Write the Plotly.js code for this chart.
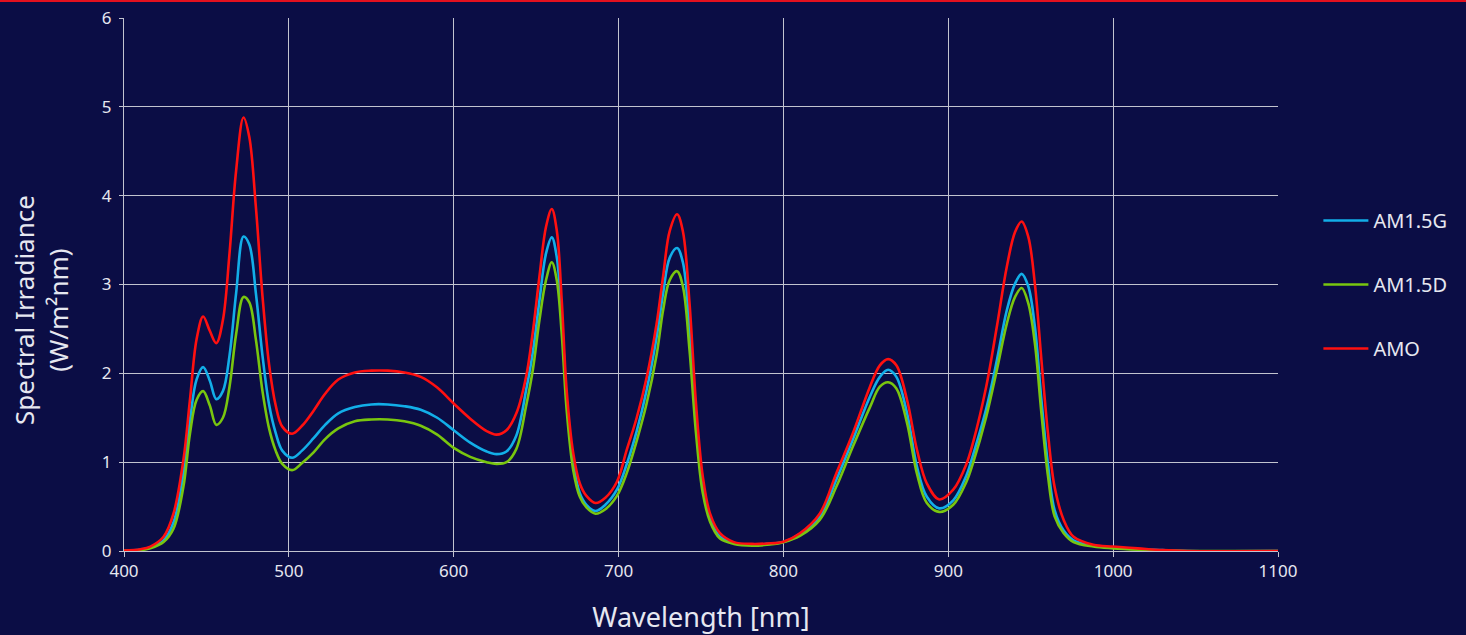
<!DOCTYPE html>
<html>
<head>
<meta charset="utf-8">
<script src="https://cdn.plot.ly/plotly-3.0.1.min.js"></script>
<style>
  html, body { margin: 0; padding: 0; background: #0b0d45; overflow: hidden; }
  #topline { position: absolute; left: 0; top: 0; width: 1466px; height: 2px; background: #e3101e; z-index: 10; }
  #chart { width: 1466px; height: 635px; }
</style>
</head>
<body>
<div id="topline"></div>
<div id="chart"></div>
<script>
const wavelength = [400, 410, 416, 424, 430, 436, 440, 444, 448, 452, 456, 460, 464, 468, 472.5, 476, 480, 484, 488, 492, 496, 502, 508, 515, 522, 530, 540, 550, 560, 570, 580, 590, 600, 610, 620, 626, 632, 638, 644, 648, 652, 656, 659.5, 662.5, 665.5, 668.5, 672.5, 676.5, 680.5, 686, 692, 699, 705, 711, 717, 723, 727, 731, 735.5, 739, 743, 747, 751, 755.5, 761.5, 770, 781, 790, 800, 810, 822, 832, 842, 852.5, 858.5, 863.5, 868.5, 875, 881, 887, 894.5, 903, 911, 915, 923, 929.5, 935.5, 940.5, 944.5, 948.5, 952.5, 956.5, 960.5, 964.5, 970, 976, 988, 1000, 1015, 1030, 1045, 1100];

const am15g = [0.003, 0.015, 0.04, 0.12, 0.32, 0.87, 1.47, 1.93, 2.07, 1.92, 1.71, 1.80, 2.20, 2.90, 3.54, 3.45, 2.90, 2.20, 1.65, 1.33, 1.13, 1.05, 1.13, 1.27, 1.42, 1.55, 1.62, 1.65, 1.65, 1.63, 1.59, 1.50, 1.36, 1.22, 1.12, 1.09, 1.12, 1.30, 1.82, 2.24, 2.82, 3.35, 3.53, 3.31, 2.64, 1.70, 0.99, 0.65, 0.52, 0.45, 0.52, 0.69, 0.98, 1.35, 1.81, 2.40, 2.90, 3.30, 3.41, 3.25, 2.52, 1.50, 0.76, 0.37, 0.16, 0.09, 0.07, 0.08, 0.10, 0.19, 0.39, 0.80, 1.25, 1.74, 1.96, 2.04, 1.96, 1.55, 0.95, 0.61, 0.48, 0.57, 0.85, 1.08, 1.60, 2.15, 2.71, 3.01, 3.12, 2.98, 2.53, 1.70, 0.97, 0.46, 0.23, 0.12, 0.06, 0.04, 0.02, 0.01, 0.0, 0.0];

const am15d = [0.002, 0.01, 0.03, 0.10, 0.25, 0.72, 1.32, 1.70, 1.80, 1.64, 1.42, 1.50, 1.85, 2.44, 2.86, 2.80, 2.38, 1.80, 1.38, 1.13, 0.98, 0.91, 0.99, 1.11, 1.26, 1.38, 1.46, 1.48, 1.48, 1.46, 1.41, 1.31, 1.16, 1.06, 1.00, 0.98, 1.00, 1.15, 1.64, 2.04, 2.60, 3.05, 3.25, 3.05, 2.45, 1.59, 0.91, 0.61, 0.49, 0.42, 0.47, 0.62, 0.88, 1.24, 1.66, 2.20, 2.71, 3.05, 3.15, 2.98, 2.27, 1.32, 0.66, 0.33, 0.14, 0.08, 0.06, 0.07, 0.10, 0.17, 0.35, 0.72, 1.17, 1.62, 1.85, 1.90, 1.83, 1.44, 0.87, 0.54, 0.44, 0.52, 0.78, 0.99, 1.51, 2.04, 2.56, 2.86, 2.96, 2.79, 2.34, 1.55, 0.84, 0.39, 0.20, 0.10, 0.05, 0.03, 0.015, 0.005, 0.0, 0.0];

const am0 = [0.005, 0.02, 0.05, 0.16, 0.42, 1.02, 1.70, 2.38, 2.64, 2.48, 2.34, 2.60, 3.35, 4.28, 4.88, 4.66, 3.87, 2.87, 2.10, 1.64, 1.40, 1.32, 1.41, 1.58, 1.77, 1.93, 2.01, 2.03, 2.03, 2.01, 1.96, 1.84, 1.66, 1.49, 1.35, 1.31, 1.36, 1.55, 1.97, 2.47, 3.09, 3.65, 3.85, 3.61, 2.83, 1.81, 1.10, 0.76, 0.62, 0.54, 0.60, 0.78, 1.14, 1.50, 1.95, 2.55, 3.09, 3.60, 3.79, 3.60, 2.80, 1.65, 0.85, 0.42, 0.20, 0.10, 0.08, 0.085, 0.105, 0.20, 0.42, 0.87, 1.32, 1.85, 2.09, 2.16, 2.09, 1.70, 1.14, 0.76, 0.58, 0.69, 0.98, 1.22, 1.85, 2.53, 3.20, 3.59, 3.71, 3.54, 3.01, 2.15, 1.32, 0.72, 0.35, 0.16, 0.07, 0.05, 0.03, 0.01, 0.0, 0.0];

const seriesNames = ['AM1.5G', 'AM1.5D', 'AMO'];
const xTicks = [400, 500, 600, 700, 800, 900, 1000, 1100];
const yTicks = [0, 1, 2, 3, 4, 5, 6];

const colors = ['#12aee8', '#79c60f', '#ff1010'];
const seriesData = [am15g, am15d, am0];
const fontFam = '"Noto Sans", "Open Sans", sans-serif';
const txtColor = '#e6e7f0';
const gridCol = '#c2c3cf';

const traces = seriesData.map((ys, i) => ({
  x: wavelength,
  y: ys,
  type: 'scatter',
  mode: 'lines',
  name: seriesNames[i],
  legendgroup: 'g' + i,
  line: { color: colors[i], width: 2.6, shape: 'spline', smoothing: 1.0 },
  hoverinfo: 'skip'
}));

const layout = {
  width: 1466,
  height: 635,
  paper_bgcolor: '#0b0d45',
  plot_bgcolor: '#0b0d45',
  margin: { l: 124, r: 188, t: 18, b: 84, pad: 0 },
  font: { family: fontFam, color: txtColor, size: 17 },
  showlegend: true,
  legend: {
    x: 1.035, xanchor: 'left',
    y: 0.5, yanchor: 'middle',
    bgcolor: 'rgba(0,0,0,0)',
    font: { family: fontFam, size: 20, color: txtColor },
    traceorder: 'grouped',
    tracegroupgap: 35,
    itemwidth: 45
  },
  xaxis: {
    range: [400, 1100],
    tickvals: xTicks,
    ticktext: xTicks.map(String),
    showgrid: true,
    gridcolor: gridCol,
    gridwidth: 1,
    zeroline: false,
    showline: true,
    linecolor: gridCol,
    linewidth: 1,
    ticks: 'outside',
    ticklen: 5,
    tickcolor: gridCol,
    tickfont: { family: fontFam, size: 17, color: txtColor },
    title: { text: 'Wavelength [nm]', font: { family: fontFam, size: 27, color: txtColor }, standoff: 27 },
    fixedrange: true
  },
  yaxis: {
    range: [0, 6],
    tickvals: yTicks,
    ticktext: yTicks.map(String),
    showgrid: true,
    gridcolor: gridCol,
    gridwidth: 1,
    zeroline: false,
    showline: true,
    linecolor: gridCol,
    linewidth: 1,
    ticks: 'outside',
    ticklen: 4,
    tickcolor: gridCol,
    ticklabelstandoff: 4,
    tickfont: { family: fontFam, size: 17, color: txtColor },
    fixedrange: true
  },
  annotations: [{
    xref: 'paper', yref: 'paper',
    x: -0.072, y: 0.452,
    xanchor: 'center', yanchor: 'middle',
    textangle: -90,
    showarrow: false,
    text: 'Spectral Irradiance<br>(W/m²nm)',
    font: { family: fontFam, size: 26, color: txtColor }
  }]
};

Plotly.newPlot('chart', traces, layout, { displayModeBar: false, staticPlot: true });
</script>
</body>
</html>
